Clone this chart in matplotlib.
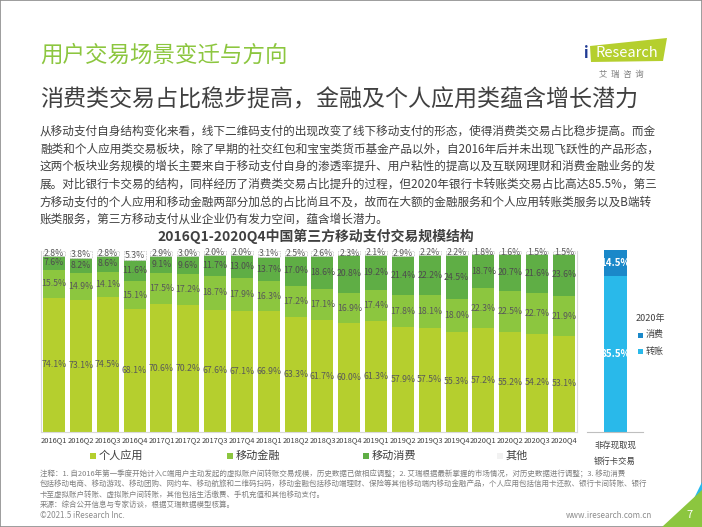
import matplotlib
matplotlib.use("Agg")
import matplotlib.pyplot as plt
from matplotlib.patches import Rectangle, Polygon
import numpy as np

plt.rcParams['font.family'] = ['Noto Sans CJK SC', 'DejaVu Sans']

quarters = ["2016Q1", "2016Q2", "2016Q3", "2016Q4", "2017Q1", "2017Q2", "2017Q3", "2017Q4",
            "2018Q1", "2018Q2", "2018Q3", "2018Q4", "2019Q1", "2019Q2", "2019Q3", "2019Q4",
            "2020Q1", "2020Q2", "2020Q3", "2020Q4"]
personal = [74.1, 73.1, 74.5, 68.1, 70.6, 70.2, 67.6, 67.1, 66.9, 63.3,
            61.7, 60.0, 61.3, 57.9, 57.5, 55.3, 57.2, 55.2, 54.2, 53.1]
finance = [15.5, 14.9, 14.1, 15.1, 17.5, 17.2, 18.7, 17.9, 16.3, 17.2,
           17.1, 16.9, 17.4, 17.8, 18.1, 18.0, 22.3, 22.5, 22.7, 21.9]
consume = [7.6, 8.2, 8.6, 11.6, 9.1, 9.6, 11.7, 13.0, 13.7, 17.0,
           18.6, 20.8, 19.2, 21.4, 22.2, 24.5, 18.7, 20.7, 21.6, 23.6]
other = [2.8, 3.8, 2.8, 5.3, 2.9, 3.0, 2.0, 2.0, 3.1, 2.5,
         2.6, 2.3, 2.1, 2.9, 2.2, 2.2, 1.8, 1.6, 1.5, 1.5]
series_names = ["个人应用", "移动金融", "移动消费", "其他"]

bank_names = ["消费", "转账"]
bank_values = [14.5, 85.5]
bank_year = "2020年"
bank_xlabel = ["非存现取现", "银行卡交易"]

W, H = 702, 527
fig = plt.figure(figsize=(W / 100, H / 100), dpi=100)


def fx(x):
    return x / W


def fy(y):
    return 1 - y / H


# page border
fig.patches.append(Rectangle((0, 0), 1, 1, transform=fig.transFigure, fill=False,
                             edgecolor='#8c8c8c', linewidth=1.2))

# titles
fig.text(fx(40), fy(55), "用户交易场景变迁与方向", fontsize=16.2, color='#8cc63f',
         va='center', ha='left')
fig.text(fx(40), fy(100), "消费类交易占比稳步提高，金融及个人应用类蕴含增长潜力", fontsize=16.6,
         color='#404040', va='center', ha='left')

# logo
fig.patches.append(Polygon([[fx(590), fy(46)], [fx(667), fy(38)], [fx(663), fy(61)], [fx(591), fy(62)]],
                           closed=True, transform=fig.transFigure, facecolor='#b5cf2e', edgecolor='none'))
fig.text(fx(586), fy(53), "i", fontsize=11, color='#1f3a93', va='center', ha='center', fontweight='bold')
fig.text(fx(627), fy(53), "Research", fontsize=10.5, color='white', va='center', ha='center')
fig.text(fx(621), fy(74), "艾  瑞  咨  询", fontsize=6, color='#7f7f7f', va='center', ha='center')

# paragraph
para = [
    "从移动支付自身结构变化来看，线下二维码支付的出现改变了线下移动支付的形态，使得消费类交易占比稳步提高。而金",
    "融类和个人应用类交易板块，除了早期的社交红包和宝宝类货币基金产品以外，自2016年后并未出现飞跃性的产品形态，",
    "这两个板块业务规模的增长主要来自于移动支付自身的渗透率提升、用户粘性的提高以及互联网理财和消费金融业务的发",
    "展。对比银行卡交易的结构，同样经历了消费类交易占比提升的过程，但2020年银行卡转账类交易占比高达85.5%，第三",
    "方移动支付的个人应用和移动金融两部分加总的占比尚且不及，故而在大额的金融服务和个人应用转账类服务以及B端转",
    "账类服务，第三方移动支付从业企业仍有发力空间，蕴含增长潜力。",
]
for i, line in enumerate(para):
    fig.text(fx(40), fy(131 + i * 17.7), line, fontsize=8.4, color='#404040', va='center', ha='left')

# chart title
fig.text(fx(316), fy(236), "2016Q1-2020Q4中国第三方移动支付交易规模结构", fontsize=10,
         fontweight='bold', color='#404040', va='center', ha='center')

# main chart
colors = ['#b5cf2e', '#8cc63f', '#5fae45', '#ffffff']
ax = fig.add_axes([fx(40.6), fy(432), (577.4 - 40.6) / W, (432 - 251) / H])
x = np.arange(len(quarters))
data = [personal, finance, consume, other]
bottom = np.zeros(len(quarters))
for k, (vals, col) in enumerate(zip(data, colors)):
    vals = np.array(vals)
    if k == 3:
        ax.bar(x, vals, 0.82, bottom=bottom, color=col, edgecolor='#cfcfcf',
               linewidth=0.6, linestyle=(0, (2, 1)))
    else:
        ax.bar(x, vals, 0.82, bottom=bottom, color=col, edgecolor='none')
    for xi, b, v in zip(x, bottom, vals):
        ax.text(xi, b + v / 2, f"{v:.1f}%", ha='center', va='center', fontsize=6.3,
                color='#595959' if k != 2 else '#4d4d4d')
    bottom += vals
ax.set_xlim(-0.5, len(quarters) - 0.5)
ax.set_ylim(0, 100)
ax.set_xticks(x)
ax.set_xticklabels(quarters, fontsize=5.4, color='#404040')
ax.tick_params(axis='x', length=0, pad=3)
ax.set_yticks([])
ax.spines['top'].set_visible(False)
for s in ['left', 'right', 'bottom']:
    ax.spines[s].set_color('#d9d9d9')
    ax.spines[s].set_linewidth(0.8)

# legend
leg_x = [90, 227, 363, 497]
for name, col, lx in zip(series_names, colors, leg_x):
    fig.patches.append(Rectangle((fx(lx), fy(459)), 6 / W, 6 / H, transform=fig.transFigure,
                                 facecolor=col if col != '#ffffff' else '#f2f2f2', edgecolor='none'))
    fig.text(fx(lx + 9), fy(456), name, fontsize=8, color='#404040', va='center', ha='left')

# right panel
ax2 = fig.add_axes([fx(587), fy(432), 56 / W, (432 - 250) / H])
bank_colors = ['#1a88c9', '#29b9ea']
b = 0
order = [1, 0]  # transfer at bottom, consume on top
for idx in order:
    v = bank_values[idx]
    ax2.bar(0.51, v, 0.41, bottom=b, color=bank_colors[idx], edgecolor='none')
    ax2.text(0.51, b + v / 2, f"{v:.1f}%", ha='center', va='center', fontsize=7,
             color='white', fontweight='bold')
    b += v
ax2.set_xlim(0, 1)
ax2.set_ylim(0, 100)
ax2.set_xticks([])
ax2.set_yticks([])
for s in ['top', 'left', 'right']:
    ax2.spines[s].set_visible(False)
ax2.spines['bottom'].set_color('#bfbfbf')
ax2.spines['bottom'].set_linewidth(0.8)
for i, t in enumerate(bank_xlabel):
    fig.text(fx(615), fy(445 + i * 16), t, fontsize=6, color='#404040', va='center', ha='center')

fig.text(fx(636), fy(318), bank_year, fontsize=6.5, color='#404040', va='center', ha='left')
for i, (name, col) in enumerate(zip(bank_names, bank_colors)):
    yy = 335 + i * 16
    fig.patches.append(Rectangle((fx(638), fy(yy + 2.5)), 5 / W, 5 / H, transform=fig.transFigure,
                                 facecolor=col, edgecolor='none'))
    fig.text(fx(646), fy(yy), name, fontsize=6.5, color='#404040', va='center', ha='left')

# footnotes
notes = [
    "注释：1. 自2016年第一季度开始计入C端用户主动发起的虚拟账户间转账交易规模，历史数据已做相应调整；2. 艾瑞根据最新掌握的市场情况，对历史数据进行调整；3. 移动消费",
    "包括移动电商、移动游戏、移动团购、网约车、移动航旅和二维码扫码，移动金融包括移动端理财、保险等其他移动端内移动金融产品，个人应用包括信用卡还款、银行卡间转账、银行",
    "卡至虚拟账户转账、虚拟账户间转账，其他包括生活缴费、手机充值和其他移动支付。",
    "来源：综合公开信息与专家访谈，根据艾瑞数据模型核算。",
]
for i, line in enumerate(notes):
    fig.text(fx(40), fy(474 + i * 10.2), line, fontsize=5.4, color='#7f7f7f', va='center', ha='left')

fig.text(fx(40), fy(515), "©2021.5 iResearch Inc.", fontsize=5.8, color='#8c8c8c', va='center', ha='left')
fig.text(fx(652), fy(515), "www.iresearch.com.cn", fontsize=5.8, color='#8c8c8c', va='center', ha='right')

# page corner
fig.patches.append(Polygon([[fx(702), fy(482)], [fx(702), fy(527)], [fx(680), fy(527)]],
                           closed=True, transform=fig.transFigure, facecolor='#29b9ea', edgecolor='none'))
fig.patches.append(Polygon([[fx(702), fy(490)], [fx(702), fy(527)], [fx(662), fy(527)]],
                           closed=True, transform=fig.transFigure, facecolor='#8cc63f', edgecolor='none'))
fig.text(fx(690), fy(515), "7", fontsize=8, color='white', va='center', ha='center')

fig.savefig("out.png", dpi=100)
